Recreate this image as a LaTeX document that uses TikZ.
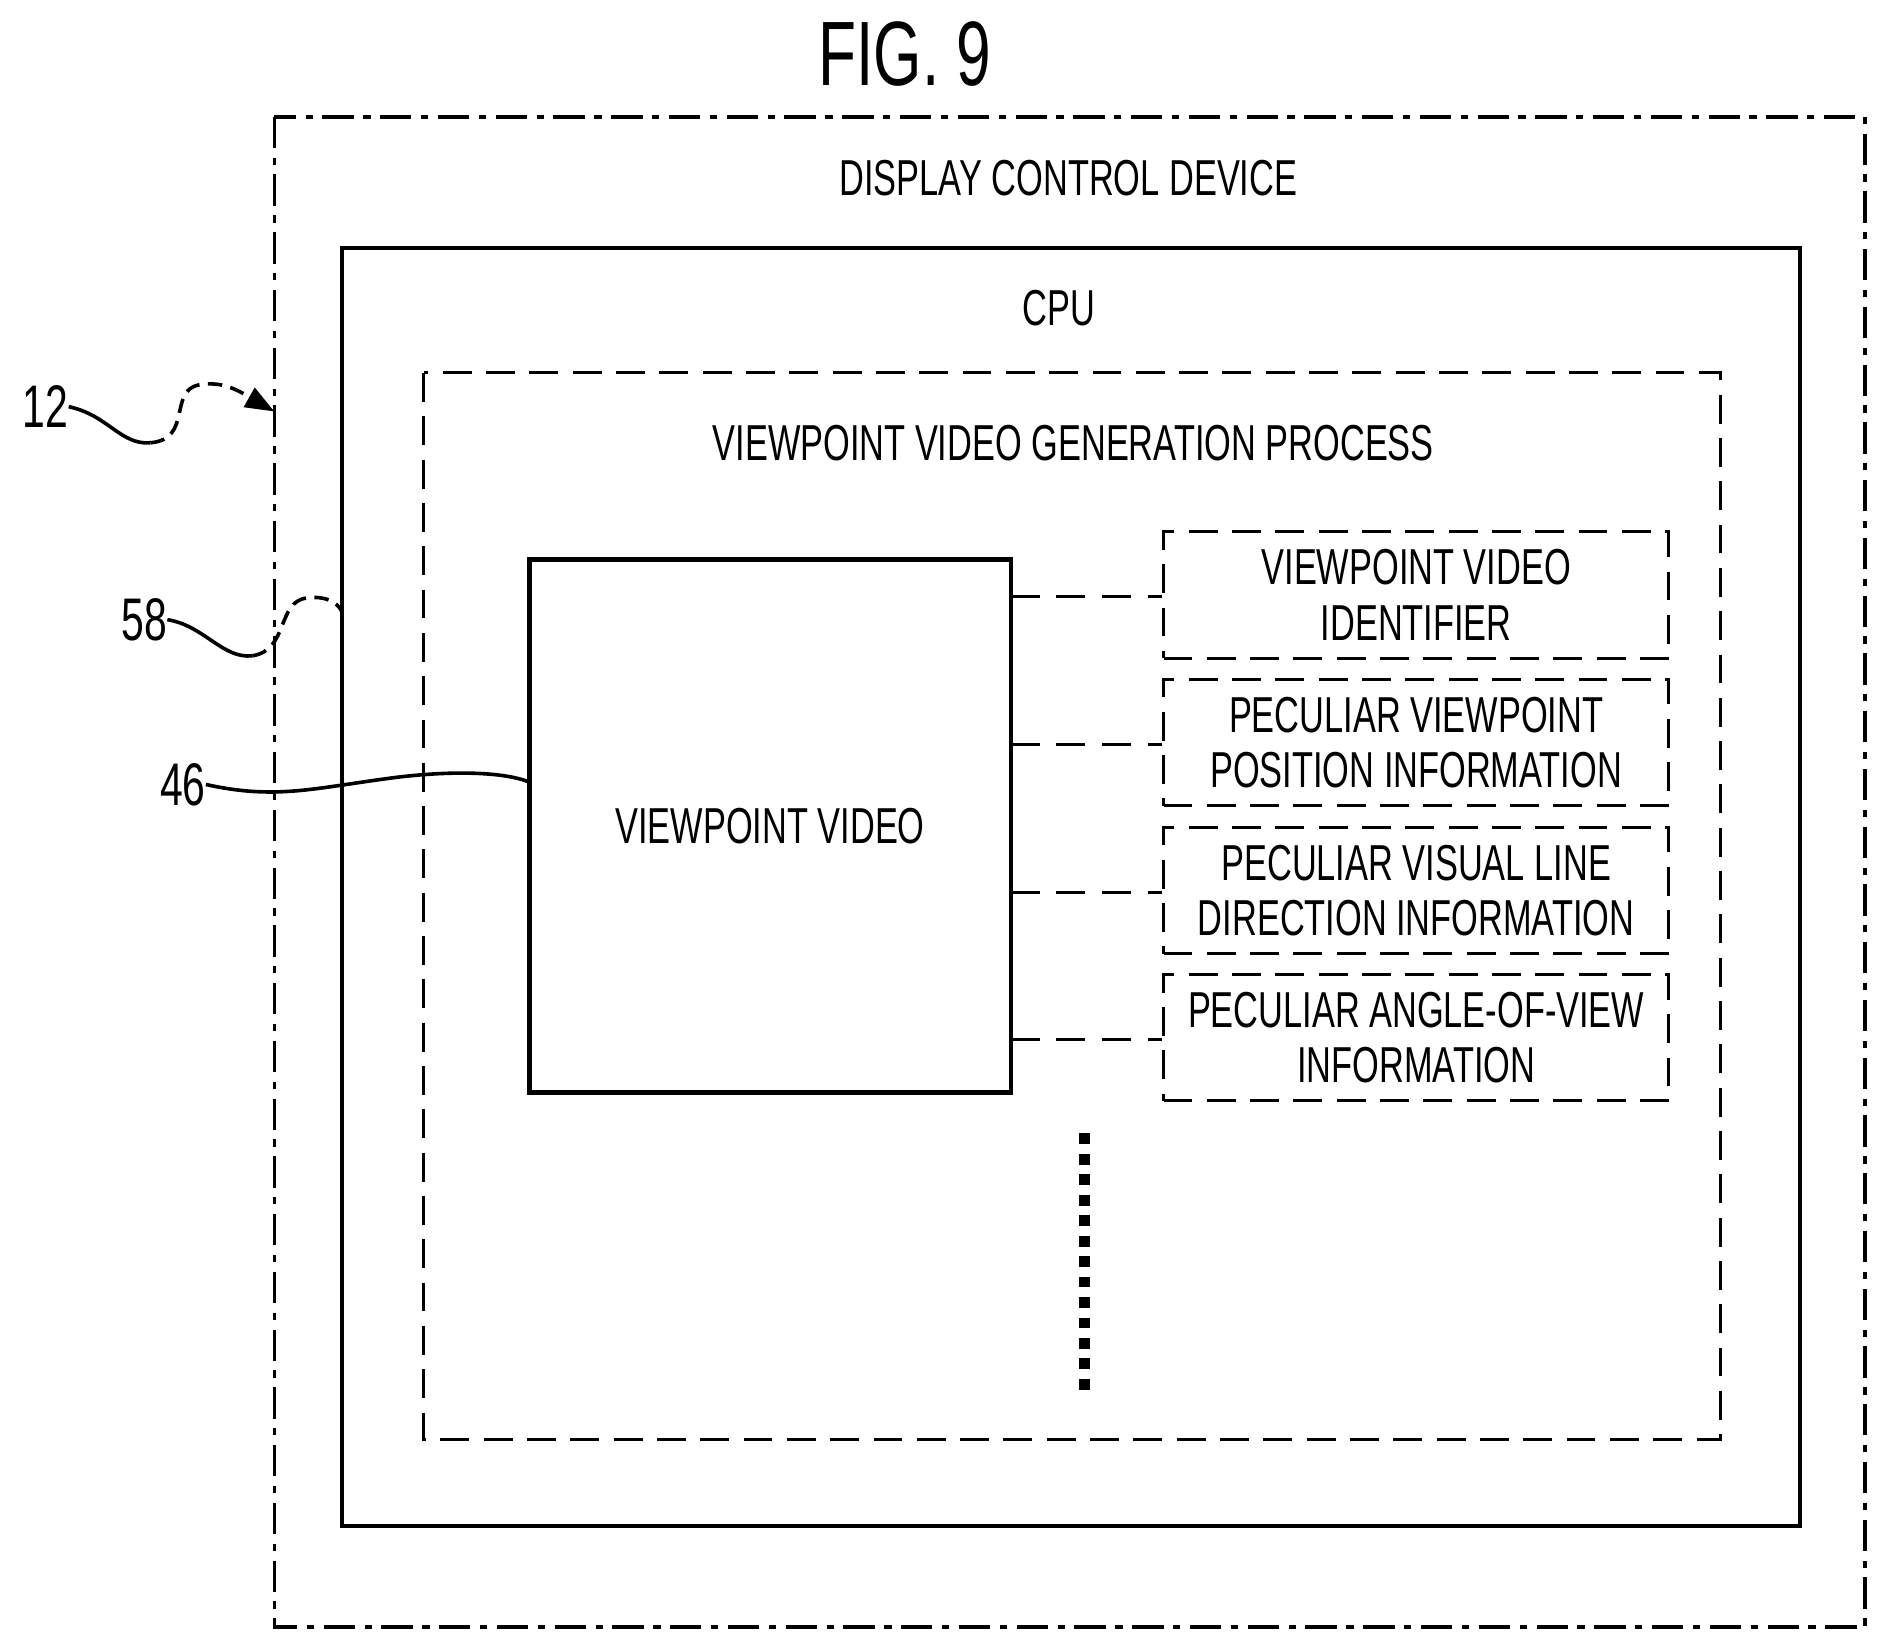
\documentclass[tikz,border=0pt]{standalone}
\usepackage{fontspec}
\setmainfont{Liberation Sans}[FakeStretch=0.68]
\usetikzlibrary{arrows.meta}
\begin{document}
\begin{tikzpicture}[x=1pt,y=-1pt,
  txt/.style={font=\fontsize{42}{46}\selectfont,align=center,inner sep=0},
  solidbox/.style={draw,line width=3.5pt},
  dbox/.style={draw,line width=2.5pt,dash pattern=on 24pt off 12pt},
  conn/.style={line width=2.5pt,dash pattern=on 24pt off 14pt},
  lead/.style={line width=3pt}]
\useasboundingbox (0,0) rectangle (1565,1370);
\node[font=\fontsize{76}{80}\selectfont,inner sep=0] (fig) at (752,45) {FIG. 9};
\draw[line width=3pt,dash pattern=on 26pt off 8pt on 6pt off 8pt] (228,97) rectangle (1550,1352);
\node[txt] (dcd) at (888,148) {DISPLAY CONTROL DEVICE};
\draw[solidbox] (284,206) rectangle (1496,1268);
\node[txt] (cpu) at (880,256) {CPU};
\draw[dbox] (352,310) rectangle (1430,1196);
\node[txt] (vvgp) at (892,368) {VIEWPOINT VIDEO GENERATION PROCESS};
\node[solidbox,minimum width=400pt,minimum height=443pt,txt] (vv) at (640,686.5) {VIEWPOINT VIDEO};
\foreach \n/\y/\t in {a/494.5/{VIEWPOINT VIDEO\\IDENTIFIER},
  b/617/{PECULIAR VIEWPOINT\\POSITION INFORMATION},
  c/740/{PECULIAR VISUAL LINE\\DIRECTION INFORMATION},
  d/862.5/{PECULIAR ANGLE-OF-VIEW\\INFORMATION}}{
  \node[dbox,minimum width=420pt,minimum height=105pt,txt] (\n) at (1177,\y) {\t};
}
\draw[conn] (840,496) -- (a.west |- 0,496);
\draw[conn] (840,619) -- (b.west |- 0,619);
\draw[conn] (840,742) -- (c.west |- 0,742);
\draw[conn] (840,864) -- (d.west |- 0,864);
\draw[line width=9pt,dash pattern=on 9pt off 8pt] (901,942) -- (901,1160);
\node[font=\fontsize{50}{54}\selectfont,inner sep=0] (l12) at (38,338) {12};
\node[font=\fontsize{50}{54}\selectfont,inner sep=0] (l58) at (120,515) {58};
\node[font=\fontsize{50}{54}\selectfont,inner sep=0] (l46) at (152,652) {46};
\coordinate (t12) at (228,342);
\coordinate (t58) at (284,508);
\coordinate (t46) at (440,650);
\draw[lead] (l12.east) .. controls (90,345) and (100,370) .. (125,368);
\draw[lead,dash pattern=on 12pt off 7pt] (125,368) .. controls (160,365) and (140,325) .. (165,320) .. controls (185,316) and (200,325) .. (215,335);
\draw[lead,-{Triangle[length=24pt,width=18pt]}] (212,333) -- (t12);
\draw[lead] (l58.east) .. controls (170,520) and (185,548) .. (210,545);
\draw[lead,dash pattern=on 12pt off 7pt] (210,545) .. controls (240,540) and (230,500) .. (255,497) .. controls (270,495) and (280,500) .. (t58);
\draw[lead] (l46.east) .. controls (230,665) and (260,655) .. (330,646) .. controls (380,640) and (420,642) .. (t46);
\end{tikzpicture}
\end{document}
